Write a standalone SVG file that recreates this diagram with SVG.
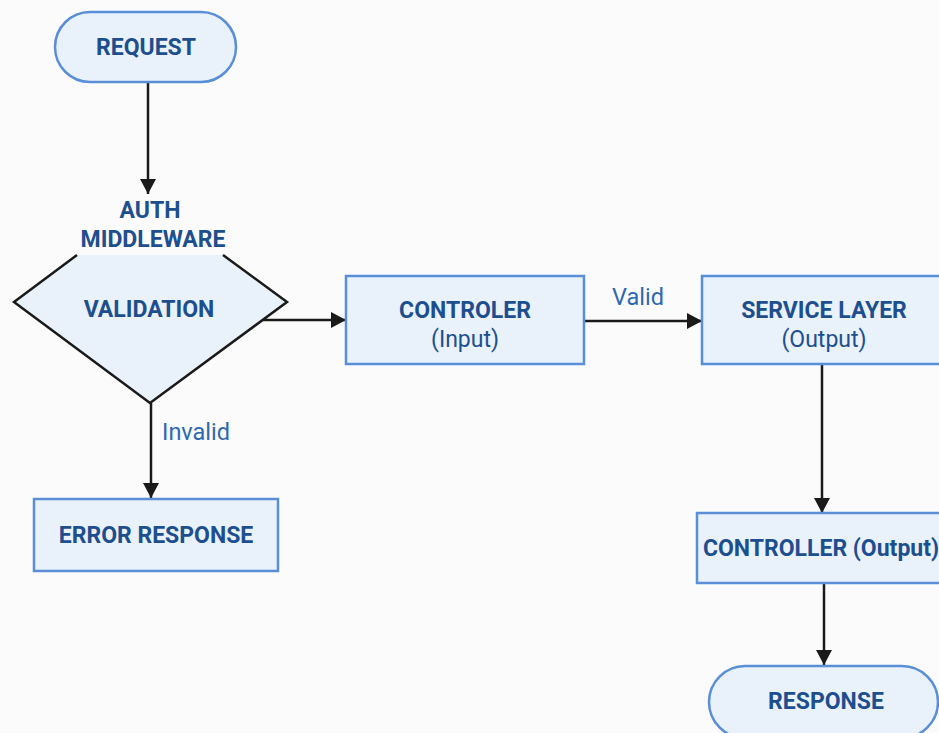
<svg xmlns="http://www.w3.org/2000/svg" width="939" height="733" viewBox="0 0 939 733">
<style>
.node{fill:#e9f1fb;stroke:#5a8fd8;stroke-width:2.5}
.t{font-family:Roboto,"Liberation Sans",sans-serif;font-size:23px;font-weight:700;fill:#1d4f8f;text-anchor:middle}
.n{font-family:Roboto,"Liberation Sans",sans-serif;font-size:23px;font-weight:400;fill:#1d4f8f;text-anchor:middle}
.lbl{font-family:Roboto,"Liberation Sans",sans-serif;font-size:23.5px;font-weight:400;fill:#2e68b0}
.c{stroke:#1a1a1a;stroke-width:2.5;fill:none;marker-end:url(#ah)}
</style>
<defs>
<marker id="ah" markerUnits="userSpaceOnUse" markerWidth="16" markerHeight="16" refX="15" refY="8" orient="auto">
<path d="M0,0 L15,8 L0,16 z" fill="#1a1a1a"/>
</marker>
</defs>
<rect width="939" height="733" fill="#fbfbfc"/>
<g id="connectors">
<line class="c" x1="148" y1="82" x2="148" y2="194"/>
<line class="c" x1="263" y1="320" x2="346" y2="320"/>
<line class="c" x1="584" y1="321" x2="702" y2="321"/>
<line class="c" x1="822" y1="364" x2="822" y2="513"/>
<line class="c" x1="824" y1="583" x2="824" y2="665"/>
<line class="c" x1="151" y1="403" x2="151" y2="498"/>
<text class="lbl" x="612" y="305">Valid</text>
<text class="lbl" x="162" y="440">Invalid</text>
</g>
<g id="request">
<rect class="node" x="55" y="12" width="181" height="70" rx="35"/>
<text class="t" x="146" y="55">REQUEST</text>
</g>
<g id="auth">
<polygon points="77,255 14,302 150,403 287,302 223,255" fill="#e9f1fb" stroke="none"/>
<polyline points="77,255 14,302 150,403 287,302 223,255" fill="none" stroke="#1a1a1a" stroke-width="2.5"/>
<text class="t" x="150" y="218">AUTH</text>
<text class="t" x="153" y="247">MIDDLEWARE</text>
<text class="t" x="149" y="317">VALIDATION</text>
</g>
<g id="controler">
<rect class="node" x="346" y="276" width="238" height="88"/>
<text class="t" x="465" y="318">CONTROLER</text>
<text class="n" x="465" y="347">(Input)</text>
</g>
<g id="service">
<rect class="node" x="702" y="276" width="250" height="88"/>
<text class="t" x="824" y="318">SERVICE LAYER</text>
<text class="n" x="824" y="347">(Output)</text>
</g>
<g id="error">
<rect class="node" x="34" y="499" width="244" height="72"/>
<text class="t" x="156" y="543">ERROR RESPONSE</text>
</g>
<g id="controller-output">
<rect class="node" x="697" y="513" width="255" height="70"/>
<text class="t" x="821" y="556">CONTROLLER (Output)</text>
</g>
<g id="response">
<rect class="node" x="709" y="666" width="229" height="72" rx="36"/>
<text class="t" x="826" y="709">RESPONSE</text>
</g>
</svg>
